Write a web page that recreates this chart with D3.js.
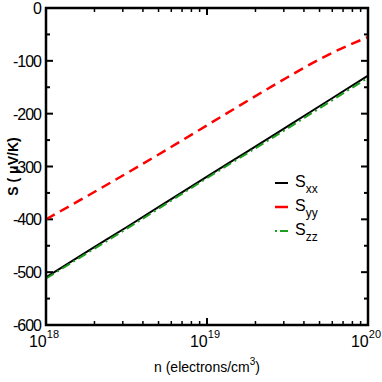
<!DOCTYPE html>
<html>
<head>
<meta charset="utf-8">
<script src="https://cdn.jsdelivr.net/npm/d3@7"></script>
<style>
  body { margin: 0; background: #fff; }
  text { font-family: "Liberation Sans", Arial, sans-serif; }
</style>
</head>
<body>
<div id="chart"></div>
<script>
// log10(n) positions where curves were read
const logN = [18, 18.25, 18.5, 18.75, 19, 19.25, 19.5, 19.75, 20];
const sxx = [-510, -462, -415, -367, -319, -272, -224, -176, -128];
const syy = [-400, -357, -313, -268, -222, -176, -131, -89, -55];
const szz = [-512, -465, -418, -370, -322, -275, -228, -180, -132];
const yTicks = [0, -100, -200, -300, -400, -500, -600];
const xMajor = [18, 19, 20];

const W = 382, H = 382;
const margin = { top: 8, right: 14, bottom: 57, left: 46 };

const svg = d3.select("#chart").append("svg")
    .attr("width", W).attr("height", H);

const x = d3.scaleLog().domain([1e18, 1e20]).range([margin.left, W - margin.right]);
const y = d3.scaleLinear().domain([-600, 0]).range([H - margin.bottom, margin.top]);

const x0 = margin.left, x1 = W - margin.right, y0 = H - margin.bottom, y1 = margin.top;

// minor log ticks
let minor = [];
for (let e = 18; e < 20; e++) {
    for (let k = 2; k <= 9; k++) minor.push(k * Math.pow(10, e));
}
const g = svg.append("g");
// x ticks bottom & top
xMajor.forEach(e => {
    const px = x(Math.pow(10, e));
    g.append("line").attr("x1", px).attr("x2", px).attr("y1", y0).attr("y2", y0 - 7).attr("stroke", "#000").attr("stroke-width", 2);
    g.append("line").attr("x1", px).attr("x2", px).attr("y1", y1).attr("y2", y1 + 7).attr("stroke", "#000").attr("stroke-width", 2);
});
minor.forEach(v => {
    const px = x(v);
    g.append("line").attr("x1", px).attr("x2", px).attr("y1", y0).attr("y2", y0 - 4).attr("stroke", "#000").attr("stroke-width", 1.5);
    g.append("line").attr("x1", px).attr("x2", px).attr("y1", y1).attr("y2", y1 + 4).attr("stroke", "#000").attr("stroke-width", 1.5);
});
// y ticks left & right
d3.range(-600, 1, 50).forEach(v => {
    const py = y(v);
    const len = v % 100 === 0 ? 7 : 4;
    g.append("line").attr("x1", x0).attr("x2", x0 + len).attr("y1", py).attr("y2", py).attr("stroke", "#000").attr("stroke-width", 2);
    g.append("line").attr("x1", x1).attr("x2", x1 - len).attr("y1", py).attr("y2", py).attr("stroke", "#000").attr("stroke-width", 2);
});

// y tick labels
yTicks.forEach(v => {
    svg.append("text").attr("x", x0 - 5).attr("y", y(v) + 6)
        .attr("text-anchor", "end").attr("font-size", 16)
        .attr("letter-spacing", -1)
        .text(v);
});
// x tick labels
xMajor.forEach(e => {
    const t = svg.append("text").attr("x", x(Math.pow(10, e)) - 2).attr("y", y0 + 22)
        .attr("text-anchor", "middle").attr("font-size", 16);
    t.append("tspan").text("10");
    t.append("tspan").attr("dy", -9).attr("font-size", 11).text(e);
});

// axis titles
const xt = svg.append("text").attr("x", x(1e19)).attr("y", y0 + 47)
    .attr("text-anchor", "middle").attr("font-size", 14);
xt.append("tspan").text("n (electrons/cm");
xt.append("tspan").attr("dy", -7).attr("font-size", 10).text("3");
xt.append("tspan").attr("dy", 7).text(")");

svg.append("text").attr("transform", `translate(18,${(y0 + y1) / 2}) rotate(-90)`)
    .attr("text-anchor", "middle").attr("font-size", 14).attr("font-weight", "bold")
    .text("S ( \u03bcV/K)");

// curves
const line = d3.line().x((d, i) => x(Math.pow(10, logN[i]))).y(d => y(d)).curve(d3.curveNatural);
const series = [
    { name: "xx", data: sxx, color: "#000", dash: null, w: 2 },
    { name: "yy", data: syy, color: "#ff0000", dash: "10,6", w: 2.5 },
    { name: "zz", data: szz, color: "#1e9e1e", dash: "9,4,2,4", w: 2 }
];
series.forEach(s => {
    svg.append("path").attr("d", line(s.data)).attr("fill", "none")
        .attr("stroke", s.color).attr("stroke-width", s.w)
        .attr("stroke-dasharray", s.dash);
});

// frame
svg.append("rect").attr("x", x0).attr("y", y1).attr("width", x1 - x0).attr("height", y0 - y1)
    .attr("fill", "none").attr("stroke", "#000").attr("stroke-width", 2.5);

// legend
series.forEach((s, i) => {
    const ly = 183 + i * 24;
    svg.append("line").attr("x1", 275).attr("x2", 288).attr("y1", ly).attr("y2", ly)
        .attr("stroke", s.color).attr("stroke-width", s.w)
        .attr("stroke-dasharray", s.name === "zz" ? "2,3,8,0" : null);
    const t = svg.append("text").attr("x", 295).attr("y", ly + 4).attr("font-size", 16);
    t.append("tspan").text("S");
    t.append("tspan").attr("dy", 6).attr("font-size", 12).text(s.name);
});
</script>
</body>
</html>
